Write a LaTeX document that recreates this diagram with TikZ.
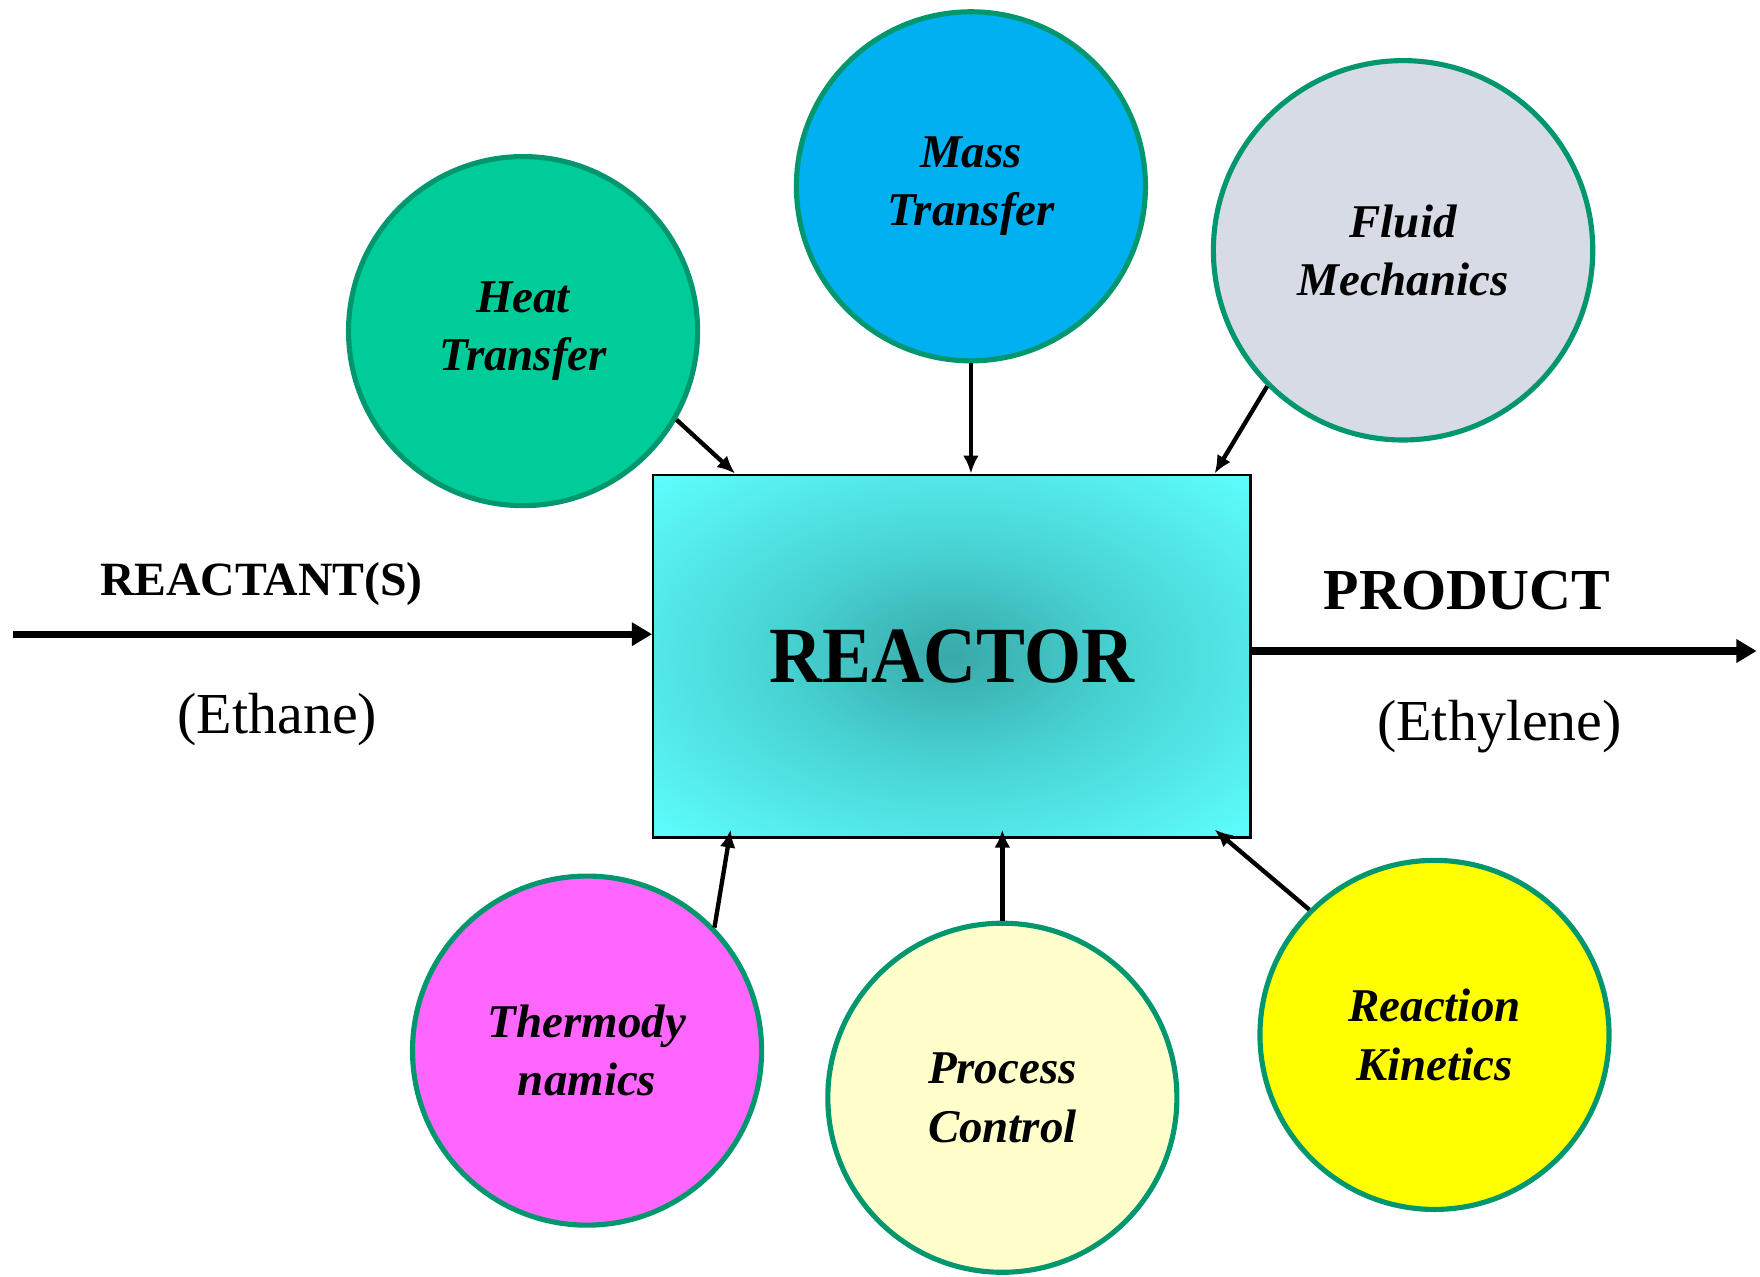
\documentclass[tikz,border=0pt]{standalone}
\usepackage{fontspec}
\setmainfont{Liberation Serif}
\usepackage{graphicx}
\usepackage{xcolor}
\definecolor{heatGreen}{rgb}{0.0, 0.80, 0.60}
\definecolor{massBlue}{rgb}{0.0, 0.69, 0.94}
\definecolor{fluidGray}{rgb}{0.84, 0.86, 0.90}
\definecolor{thermoPink}{rgb}{1.0, 0.4, 1.0}
\definecolor{controlCream}{rgb}{1.0, 1.0, 0.8}
\definecolor{kineticsYellow}{rgb}{1.0, 1.0, 0.0}
\definecolor{rimGreen}{rgb}{0.0, 0.59, 0.43}
\definecolor{reactorCore}{rgb}{0.22, 0.66, 0.66}
\definecolor{reactorMid}{rgb}{0.28, 0.82, 0.82}
\definecolor{reactorEdge}{rgb}{0.37, 1.0, 1.0}
\usetikzlibrary{arrows.meta}
\pgfdeclareradialshading{reactorGlow}{\pgfpoint{0bp}{0bp}}{color(0bp)=(reactorCore); color(14bp)=(reactorMid); color(36bp)=(reactorEdge); color(50bp)=(reactorEdge)}

\begin{document}
\begin{tikzpicture}[
		topic/.style={circle, draw=rimGreen, line width=1.3pt, minimum size=3.11cm, inner sep=0pt, align=center,
			font=\fontsize{11.9pt}{14.8pt}\selectfont\bfseries\itshape},
		stream/.style={line width=1.7pt, -{Triangle[length=0.18cm,width=0.2cm]}},
		link/.style={line width=1.1pt, -{Latex[length=0.16cm,width=0.14cm]}}
	]
			\useasboundingbox (0,0) rectangle (15.68,11.37);

			% Reactor in the middle
			\node[draw, line width=0.6pt, shading=reactorGlow, minimum width=5.32cm, minimum height=3.23cm, inner sep=0pt,
				font=\fontsize{20.2pt}{24pt}\selectfont\bfseries] (reactor) at (8.48,5.525) {\scalebox{0.92}[1]{REACTOR}};

			% Circles above the reactor
			\node[topic, fill=heatGreen] (heat) at (4.66,8.42) {Heat\\Transfer};
			\node[topic, fill=massBlue] (mass) at (8.65,9.71) {Mass\\Transfer};
			\node[topic, fill=fluidGray, minimum size=3.38cm] (fluid) at (12.50,9.14) {Fluid\\Mechanics};

			% Circles below the reactor
			\node[topic, fill=thermoPink] (thermo) at (5.23,2.01) {Thermody\\namics};
			\node[topic, fill=controlCream] (process) at (8.93,1.59) {Process\\Control};
			\node[topic, fill=kineticsYellow] (kinetics) at (12.78,2.15) {Reaction\\Kinetics};

			% Labels for the streams
			\node[font=\fontsize{12.1pt}{14pt}\selectfont\bfseries] (reactants) at (2.33,6.17) {REACTANT(S)};
			\node[font=\fontsize{14.7pt}{17pt}\selectfont] (ethane) at (2.47,4.96) {(Ethane)};
			\node[font=\fontsize{14.7pt}{17pt}\selectfont\bfseries] (product) at (13.07,6.11) {PRODUCT};
			\node[font=\fontsize{14.7pt}{17pt}\selectfont] (ethylene) at (13.36,4.90) {(Ethylene)};

			% Feed and product streams
			\coordinate (inlet) at (0.12,5.72);
			\coordinate (outlet) at (15.65,5.57);
			\draw[stream] (inlet) -- (inlet -| reactor.west);
			\draw[stream, line width=2pt] (reactor.east |- outlet) -- (outlet);

			% Draw links into the reactor
			\draw[link] (heat.-30) -- ([xshift=0.74cm]reactor.north west);
			\draw[link] (mass.south) -- (mass.south |- reactor.north);
			\draw[link] (fluid.225) -- ([xshift=-0.33cm]reactor.north east);
			\draw[link] (thermo.44) -- ([xshift=0.70cm,yshift=0.08cm]reactor.south west);
			\draw[link] (process.north) -- ([yshift=0.08cm]process.north |- reactor.south);
			\draw[link] (kinetics.135) -- ([xshift=-0.33cm,yshift=0.08cm]reactor.south east);
		\end{tikzpicture}
\end{document}
